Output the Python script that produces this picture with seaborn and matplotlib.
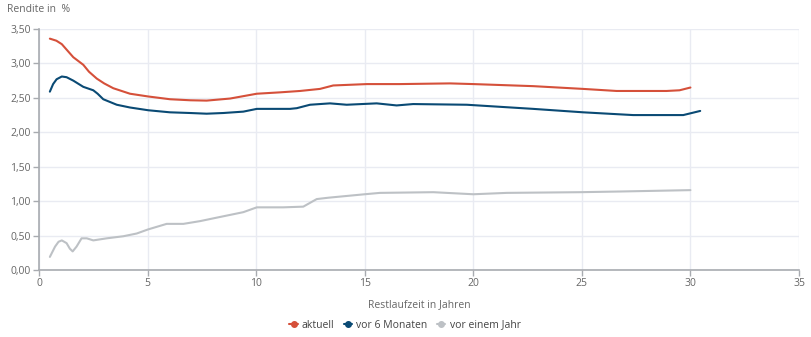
import matplotlib
matplotlib.use("Agg")
import matplotlib.pyplot as plt
from matplotlib.ticker import FuncFormatter
from matplotlib.lines import Line2D
import seaborn as sns
import pandas as pd

# --- data ---
x_aktuell = [0.5, 0.8, 1.05, 1.3, 1.58, 2.04, 2.3, 2.66, 3.0, 3.42, 4.19, 5.03, 6.03, 6.96, 7.72, 8.8, 10.03, 11.1, 12.02,
             12.94, 13.55, 15.1, 16.6, 18.93, 20.0, 22.76, 25.06, 26.6, 28.9, 29.5, 30.0]
y_aktuell = [3.36, 3.33, 3.28, 3.19, 3.09, 2.98, 2.88, 2.78, 2.71, 2.64, 2.56, 2.52, 2.48, 2.465, 2.46, 2.49, 2.56, 2.58, 2.60,
             2.63, 2.68, 2.70, 2.70, 2.71, 2.70, 2.67, 2.63, 2.60, 2.60, 2.61, 2.65]

x_6m = [0.5, 0.65, 0.81, 1.05, 1.27, 1.58, 2.04, 2.5, 2.7, 2.96, 3.58, 4.19, 5.03, 6.03, 6.96, 7.72, 8.49, 9.41,
        10.03, 11.56, 11.87, 12.48, 13.4, 14.17, 15.55, 16.47, 17.23, 19.7, 22.76, 25.06, 27.36,
        29.67, 30.45]
y_6m = [2.59, 2.70, 2.77, 2.81, 2.80, 2.75, 2.66, 2.61, 2.56, 2.48, 2.40, 2.36, 2.32, 2.29, 2.28, 2.27, 2.28, 2.30,
        2.34, 2.34, 2.35, 2.40, 2.42, 2.40, 2.42, 2.39, 2.41, 2.40, 2.34, 2.29, 2.25, 2.25, 2.31]

x_1j = [0.5, 0.74, 0.9, 1.05, 1.27, 1.42, 1.55, 1.73, 1.96, 2.2, 2.5, 3.12, 3.88, 4.5, 5.03, 5.88, 6.65, 7.42, 8.18,
        8.95, 9.41, 10.03, 11.25, 12.17, 12.79, 13.33, 15.0, 15.7, 18.16, 20.0, 21.54, 24.9, 26.76, 30.0]
y_1j = [0.19, 0.34, 0.41, 0.43, 0.39, 0.31, 0.27, 0.34, 0.46, 0.46, 0.43, 0.46, 0.49, 0.53, 0.59, 0.67, 0.67, 0.71, 0.76,
        0.81, 0.84, 0.91, 0.91, 0.92, 1.03, 1.05, 1.10, 1.12, 1.13, 1.10, 1.12, 1.13, 1.14, 1.16]

series = ["aktuell", "vor 6 Monaten", "vor einem Jahr"]
colors = ["#d5503a", "#0a4a74", "#bdc1c5"]
x_ticks = [0, 5, 10, 15, 20, 25, 30, 35]
y_ticks = [0, 0.5, 1.0, 1.5, 2.0, 2.5, 3.0, 3.5]

df = pd.concat([
    pd.DataFrame({"x": x_aktuell, "y": y_aktuell, "s": series[0]}),
    pd.DataFrame({"x": x_6m, "y": y_6m, "s": series[1]}),
    pd.DataFrame({"x": x_1j, "y": y_1j, "s": series[2]}),
], ignore_index=True)

sns.set_style("white")
plt.rcParams["font.family"] = ["Open Sans", "DejaVu Sans"]

fig = plt.figure(figsize=(8.11, 3.37), dpi=100)
ax = fig.add_axes([39 / 811, 67 / 337, 760 / 811, 241 / 337])

sns.lineplot(data=df, x="x", y="y", hue="s", hue_order=series, palette=colors,
             linewidth=1.5, ax=ax, legend=False, sort=True, estimator=None)

ax.set_xlim(0, 35)
ax.set_ylim(0, 3.5)
ax.set_xticks(x_ticks)
ax.set_yticks(y_ticks)
ax.yaxis.set_major_formatter(FuncFormatter(lambda v, p: f"{v:.2f}".replace(".", ",")))
ax.xaxis.set_major_formatter(FuncFormatter(lambda v, p: f"{v:.0f}"))
ax.grid(True, color="#e9ebf2", linewidth=1)
ax.set_axisbelow(True)
for s in ["top", "right"]:
    ax.spines[s].set_visible(False)
for s in ["left", "bottom"]:
    ax.spines[s].set_color("#a8abb0")
    ax.spines[s].set_linewidth(1.2)
ax.tick_params(axis="both", which="major", length=4, width=1, color="#a8abb0",
               labelsize=7.5, labelcolor="#666666", pad=2, direction="out",
               bottom=True, left=True)
ax.set_xlabel("Restlaufzeit in Jahren", fontsize=7.5, color="#666666", labelpad=7)
ax.set_ylabel("")
fig.text(7 / 811, 1 - 10 / 337, "Rendite in  %", fontsize=7.5, color="#666666",
         ha="left", va="center")

handles = [Line2D([0], [0], color=c, linewidth=1.5, marker="o", markersize=4) for c in colors]
fig.legend(handles, series, loc="center", bbox_to_anchor=(405 / 811, 1 - 325 / 337), ncol=3,
           frameon=False, fontsize=7.5, handlelength=0.8, handletextpad=0.4, columnspacing=0.9,
           labelcolor="#444444")

fig.savefig("out.png", dpi=100)
